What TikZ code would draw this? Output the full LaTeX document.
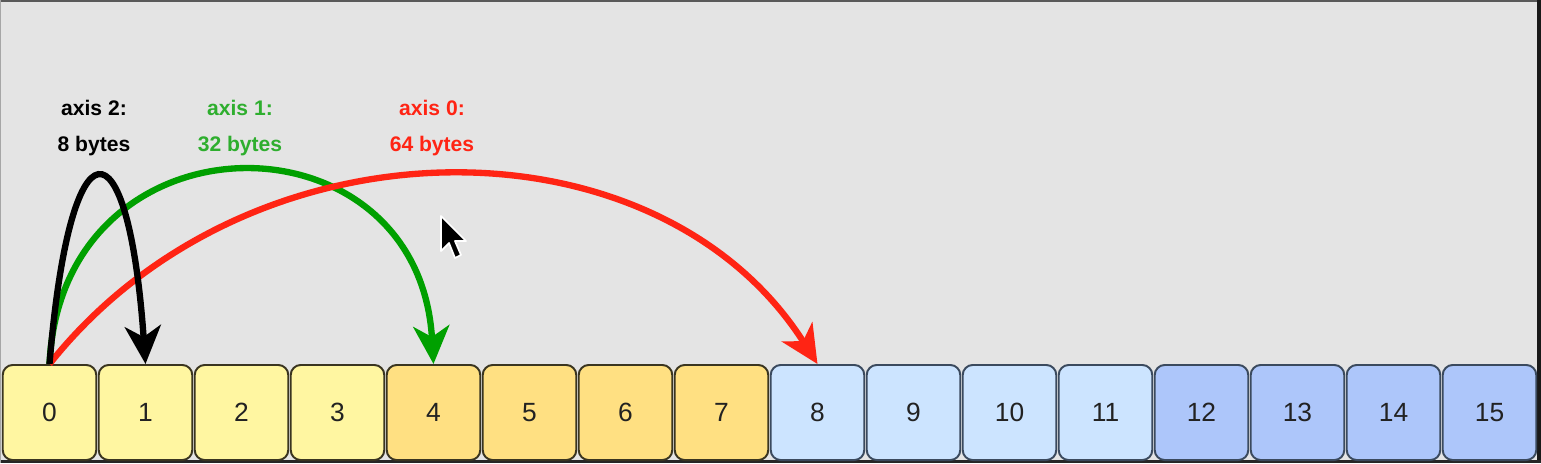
\documentclass[tikz,border=0pt]{standalone}
\usepackage{fontspec}
\setmainfont{Liberation Sans}
\usetikzlibrary{arrows.meta}
\definecolor{bg}{HTML}{E4E4E4}
\definecolor{yelA}{HTML}{FFF6A1}
\definecolor{yelB}{HTML}{FFE082}
\definecolor{bluA}{HTML}{CCE4FF}
\definecolor{bluB}{HTML}{ADC6FA}
\definecolor{yelline}{HTML}{3A3520}
\definecolor{bluline}{HTML}{3B4A5E}
\definecolor{arrgreen}{HTML}{00A000}
\definecolor{labgreen}{HTML}{2EAE2E}
\definecolor{arrred}{HTML}{FF2414}
\definecolor{txt}{HTML}{222222}
\tikzset{
  cell/.style={draw, rounded corners=0.1cm, line width=0.55pt, minimum width=0.935cm, minimum height=0.95cm,
    inner sep=0pt, text=txt, font=\fontsize{7.5}{8}\selectfont},
  ycA/.style={cell, fill=yelA, draw=yelline},
  ycB/.style={cell, fill=yelB, draw=yelline},
  bcA/.style={cell, fill=bluA, draw=bluline},
  bcB/.style={cell, fill=bluB, draw=bluline},
  lab/.style={font=\fontsize{6}{7}\selectfont\bfseries, inner sep=0pt, align=center},
  jump/.style={line width=1.8pt, -{Stealth[length=0.38cm, width=0.36cm, inset=0.11cm]}},
}
\begin{document}
\begin{tikzpicture}[x=0.01cm, y=-0.01cm]
\useasboundingbox (0,0) rectangle (1541,463);
\fill[bg] (0,0) rectangle (1541,463);
% frame
\fill[black!65] (0,0) rectangle (1541,2);
\fill[black!90] (1537,0) rectangle (1541,463);
\fill[black!85] (0,460) rectangle (1541,463);
\fill[black!35] (0,0) rectangle (1,463);
% cells
\foreach \i in {0,...,3} {\node[ycA] (c\i) at ({49.5+96*\i},412.5) {\i};}
\foreach \i in {4,...,7} {\node[ycB] (c\i) at ({49.5+96*\i},412.5) {\i};}
\foreach \i in {8,...,11} {\node[bcA] (c\i) at ({49.5+96*\i},412.5) {\i};}
\foreach \i in {12,...,15} {\node[bcB] (c\i) at ({49.5+96*\i},412.5) {\i};}
% labels
\node[lab, text=black] (l2) at (94,128) {axis 2:\\[0.12cm]8 bytes};
\node[lab, text=labgreen] (l1) at (240,128) {axis 1:\\[0.12cm]32 bytes};
\node[lab, text=arrred] (l0) at (432,128) {axis 0:\\[0.12cm]64 bytes};
% arrows
\draw[jump, arrgreen] (c0.north) .. controls +(12,-257) and +(-15,-257) .. (c4.north);
\draw[jump, arrred] (c0.north) .. controls +(200,-252) and +(-160,-252) .. (c8.north);
\draw[jump, black] (c0.north) .. controls +(20.5,-249) and +(-17.5,-249) .. (c1.north);
% cursor
\filldraw[fill=black, draw=white, line width=0.5pt, line join=round]
  (441,216) -- (441,251) -- (449,243) -- (455,258) -- (461,255) -- (455,241) -- (466,241) -- cycle;
\end{tikzpicture}
\end{document}
